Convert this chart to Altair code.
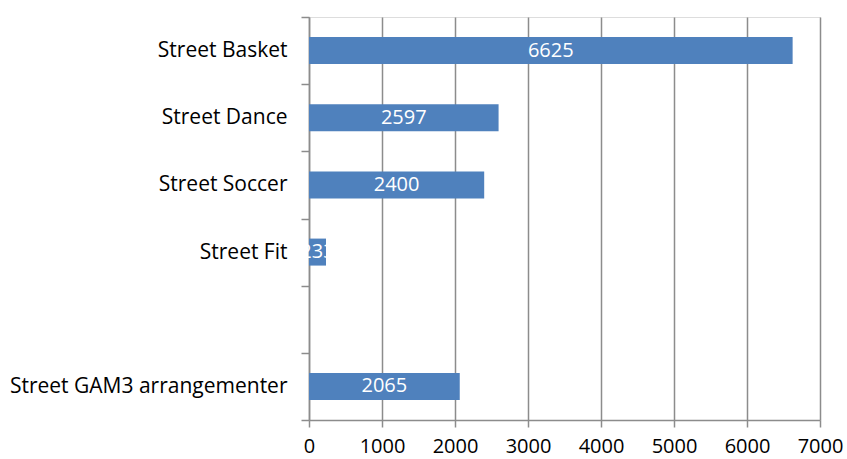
import altair as alt
import pandas as pd

categories = ["Street Basket", "Street Dance", "Street Soccer", "Street Fit", " ", "Street GAM3 arrangementer"]
values = [6625, 2597, 2400, 233, None, 2065]
x_ticks = [0, 1000, 2000, 3000, 4000, 5000, 6000, 7000]

df = pd.DataFrame({"category": categories, "value": values})
df_bars = df.dropna()

FONT = "Open Sans"
GRID = "#8c8c8c"
FS = 20

y_enc = alt.Y(
    "category:N",
    sort=categories,
    scale=alt.Scale(domain=categories, paddingInner=0, paddingOuter=0),
    axis=alt.Axis(
        title=None,
        tickBand="extent",
        domainColor=GRID,
        domainWidth=1.5,
        tickColor=GRID,
        tickWidth=1.5,
        tickSize=8,
        labelPadding=14,
        labelLimit=400,
        labelFont=FONT,
        labelFontSize=21,
        labelColor="#000000",
        grid=False,
    ),
)

x_enc = alt.X(
    "value:Q",
    scale=alt.Scale(domain=[0, 7000], nice=False),
    axis=alt.Axis(
        title=None,
        values=x_ticks,
        format="d",
        grid=True,
        gridColor=GRID,
        gridWidth=1.5,
        domainColor=GRID,
        domainWidth=1.5,
        tickColor=GRID,
        tickWidth=1.5,
        tickSize=7,
        labelPadding=9,
        labelFlush=False,
        labelOverlap=False,
        labelFont=FONT,
        labelFontSize=FS,
        labelColor="#000000",
    ),
)

bars = alt.Chart(df_bars).mark_bar(color="#4f81bd", size=27).encode(x=x_enc, y=y_enc)

labels = alt.Chart(df_bars).mark_text(
    color="white", font=FONT, fontSize=FS, align="center", baseline="middle"
).encode(
    x=alt.X("mid:Q"),
    y=alt.Y("category:N", sort=categories),
    text=alt.Text("value:Q", format="d"),
).transform_calculate(mid="datum.value / 2")

chart = (
    alt.layer(bars, labels)
    .properties(
        width=511,
        height=403,
        autosize=alt.AutoSizeParams(type="none"),
        padding={"left": 309, "top": 17, "right": 27, "bottom": 39},
    )
    .configure_view(stroke=None)
    .configure(background="white")
)

chart.save("out.html", embed_options={"renderer": "svg", "actions": False})
